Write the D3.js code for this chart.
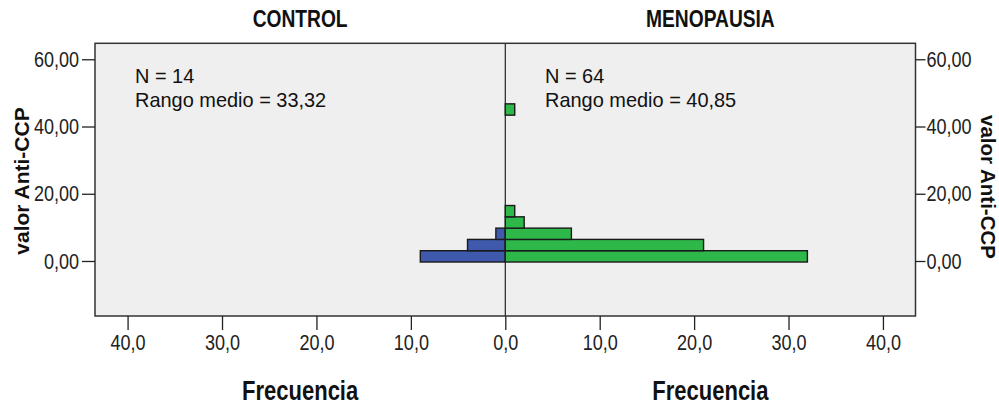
<!DOCTYPE html>
<html>
<head>
<meta charset="utf-8">
<script src="https://cdn.jsdelivr.net/npm/d3@7"></script>
<style>
    body { margin: 0; background: #fff; }
    svg text { font-family: "Liberation Sans", Arial, sans-serif; }
</style>
</head>
<body>
<div id="chart"></div>
<script>
// panels
var groups = ["CONTROL", "MENOPAUSIA"];
var groupN = [14, 64];
var groupRank = ["33,32", "40,85"];

// histogram bins (lower edge of each bin, valor Anti-CCP)
var binLow = [-0.3, 3.06, 6.42, 9.78, 13.14, 43.38];
var binWidth = 3.36;
var controlCounts = [9, 4, 1, 0, 0, 0];
var menoCounts = [32, 21, 7, 2, 1, 1];

var yTicks = [0, 20, 40, 60];
var xTicksLeft = [40, 30, 20, 10, 0];
var xTicksRight = [10, 20, 30, 40];

var width = 999, height = 406;
var frame = { left: 95, right: 915.5, top: 43.3, bottom: 316 };
var mid = 505.3;

var svg = d3.select("#chart").append("svg")
    .attr("width", width)
    .attr("height", height);

var xLeft = d3.scaleLinear().domain([43.45, 0]).range([frame.left, mid]);
var xRight = d3.scaleLinear().domain([0, 43.45]).range([mid, frame.right]);
var y = d3.scaleLinear().domain([-16.36, 64.75]).range([frame.bottom, frame.top]);

var comma = function (f) {
    return function (d) { return d3.format(f)(d).replace(".", ","); };
};

// squeeze text horizontally, the original uses a narrow font
function narrowText(x, y, s) {
    return "translate(" + x + "," + y + ") scale(" + s + ",1)";
}

// plot background
svg.append("rect")
    .attr("x", frame.left)
    .attr("y", frame.top)
    .attr("width", frame.right - frame.left)
    .attr("height", frame.bottom - frame.top)
    .attr("fill", "#efefef");

var bins = binLow.map(function (d, i) {
    return { low: d, control: controlCounts[i], meno: menoCounts[i] };
});

// control bars (left, blue)
svg.append("g").selectAll("rect")
    .data(bins.filter(function (d) { return d.control > 0; }))
    .enter().append("rect")
    .attr("x", function (d) { return xLeft(d.control); })
    .attr("y", function (d) { return y(d.low + binWidth); })
    .attr("width", function (d) { return xLeft(0) - xLeft(d.control); })
    .attr("height", function (d) { return y(d.low) - y(d.low + binWidth); })
    .attr("fill", "#3f5aad")
    .attr("stroke", "#1a1a1a")
    .attr("stroke-width", 1.4);

// menopausia bars (right, green)
svg.append("g").selectAll("rect")
    .data(bins.filter(function (d) { return d.meno > 0; }))
    .enter().append("rect")
    .attr("x", xRight(0))
    .attr("y", function (d) { return y(d.low + binWidth); })
    .attr("width", function (d) { return xRight(d.meno) - xRight(0); })
    .attr("height", function (d) { return y(d.low) - y(d.low + binWidth); })
    .attr("fill", "#2eb84a")
    .attr("stroke", "#1a1a1a")
    .attr("stroke-width", 1.4);

// centre line
svg.append("line")
    .attr("x1", mid).attr("x2", mid)
    .attr("y1", frame.top).attr("y2", frame.bottom)
    .attr("stroke", "#222")
    .attr("stroke-width", 1.2);

// frame
svg.append("rect")
    .attr("x", frame.left)
    .attr("y", frame.top)
    .attr("width", frame.right - frame.left)
    .attr("height", frame.bottom - frame.top)
    .attr("fill", "none")
    .attr("stroke", "#333")
    .attr("stroke-width", 1.5);

// axes
var tickScale = 0.82;
function styleAxis(g) {
    g.select(".domain").remove();
    g.selectAll(".tick line").attr("stroke", "#222").attr("stroke-width", 1.3);
    g.selectAll(".tick text")
        .attr("fill", "#222")
        .style("font-size", "22px")
        .attr("x", function () { return (+d3.select(this).attr("x") || 0) / tickScale; })
        .attr("transform", "scale(" + tickScale + ",1)");
}

svg.append("g")
    .attr("transform", "translate(" + frame.left + ",0)")
    .call(d3.axisLeft(y).tickValues(yTicks).tickSize(13).tickPadding(3).tickFormat(comma(".2f")))
    .call(styleAxis);

svg.append("g")
    .attr("transform", "translate(" + frame.right + ",0)")
    .call(d3.axisRight(y).tickValues(yTicks).tickSize(10).tickPadding(1).tickFormat(comma(".2f")))
    .call(styleAxis);

svg.append("g")
    .attr("transform", "translate(0," + frame.bottom + ")")
    .call(d3.axisBottom(xLeft).tickValues(xTicksLeft).tickSize(14).tickPadding(4).tickFormat(comma(".1f")))
    .call(styleAxis);

svg.append("g")
    .attr("transform", "translate(0," + frame.bottom + ")")
    .call(d3.axisBottom(xRight).tickValues(xTicksRight).tickSize(14).tickPadding(4).tickFormat(comma(".1f")))
    .call(styleAxis);

// panel titles, stats and x titles
var panelCenters = [(frame.left + mid) / 2, (mid + frame.right) / 2];
var statX = [135, 545];

groups.forEach(function (g, i) {
    svg.append("text")
        .attr("transform", narrowText(panelCenters[i], 27, 0.8))
        .attr("text-anchor", "middle")
        .style("font-weight", "bold")
        .style("font-size", "24px")
        .attr("fill", "#111")
        .text(g);

    svg.append("text")
        .attr("transform", narrowText(panelCenters[i], 400, 0.8))
        .attr("text-anchor", "middle")
        .style("font-weight", "bold")
        .style("font-size", "27.5px")
        .attr("fill", "#111")
        .text("Frecuencia");

    svg.append("text")
        .attr("transform", narrowText(statX[i], 82.5, 0.95))
        .style("font-size", "21px")
        .attr("fill", "#111")
        .text("N = " + groupN[i]);

    svg.append("text")
        .attr("transform", narrowText(statX[i], 106.5, 0.95))
        .style("font-size", "21px")
        .attr("fill", "#111")
        .text("Rango medio = " + groupRank[i]);
});

// y titles
svg.append("text")
    .attr("transform", "translate(29,181) rotate(-90)")
    .attr("text-anchor", "middle")
    .style("font-weight", "bold")
    .style("font-size", "21px")
    .attr("fill", "#111")
    .text("valor Anti-CCP");

svg.append("text")
    .attr("transform", "translate(981,187) rotate(90)")
    .attr("text-anchor", "middle")
    .style("font-weight", "bold")
    .style("font-size", "20.5px")
    .attr("fill", "#111")
    .text("valor Anti-CCP");
</script>
</body>
</html>
